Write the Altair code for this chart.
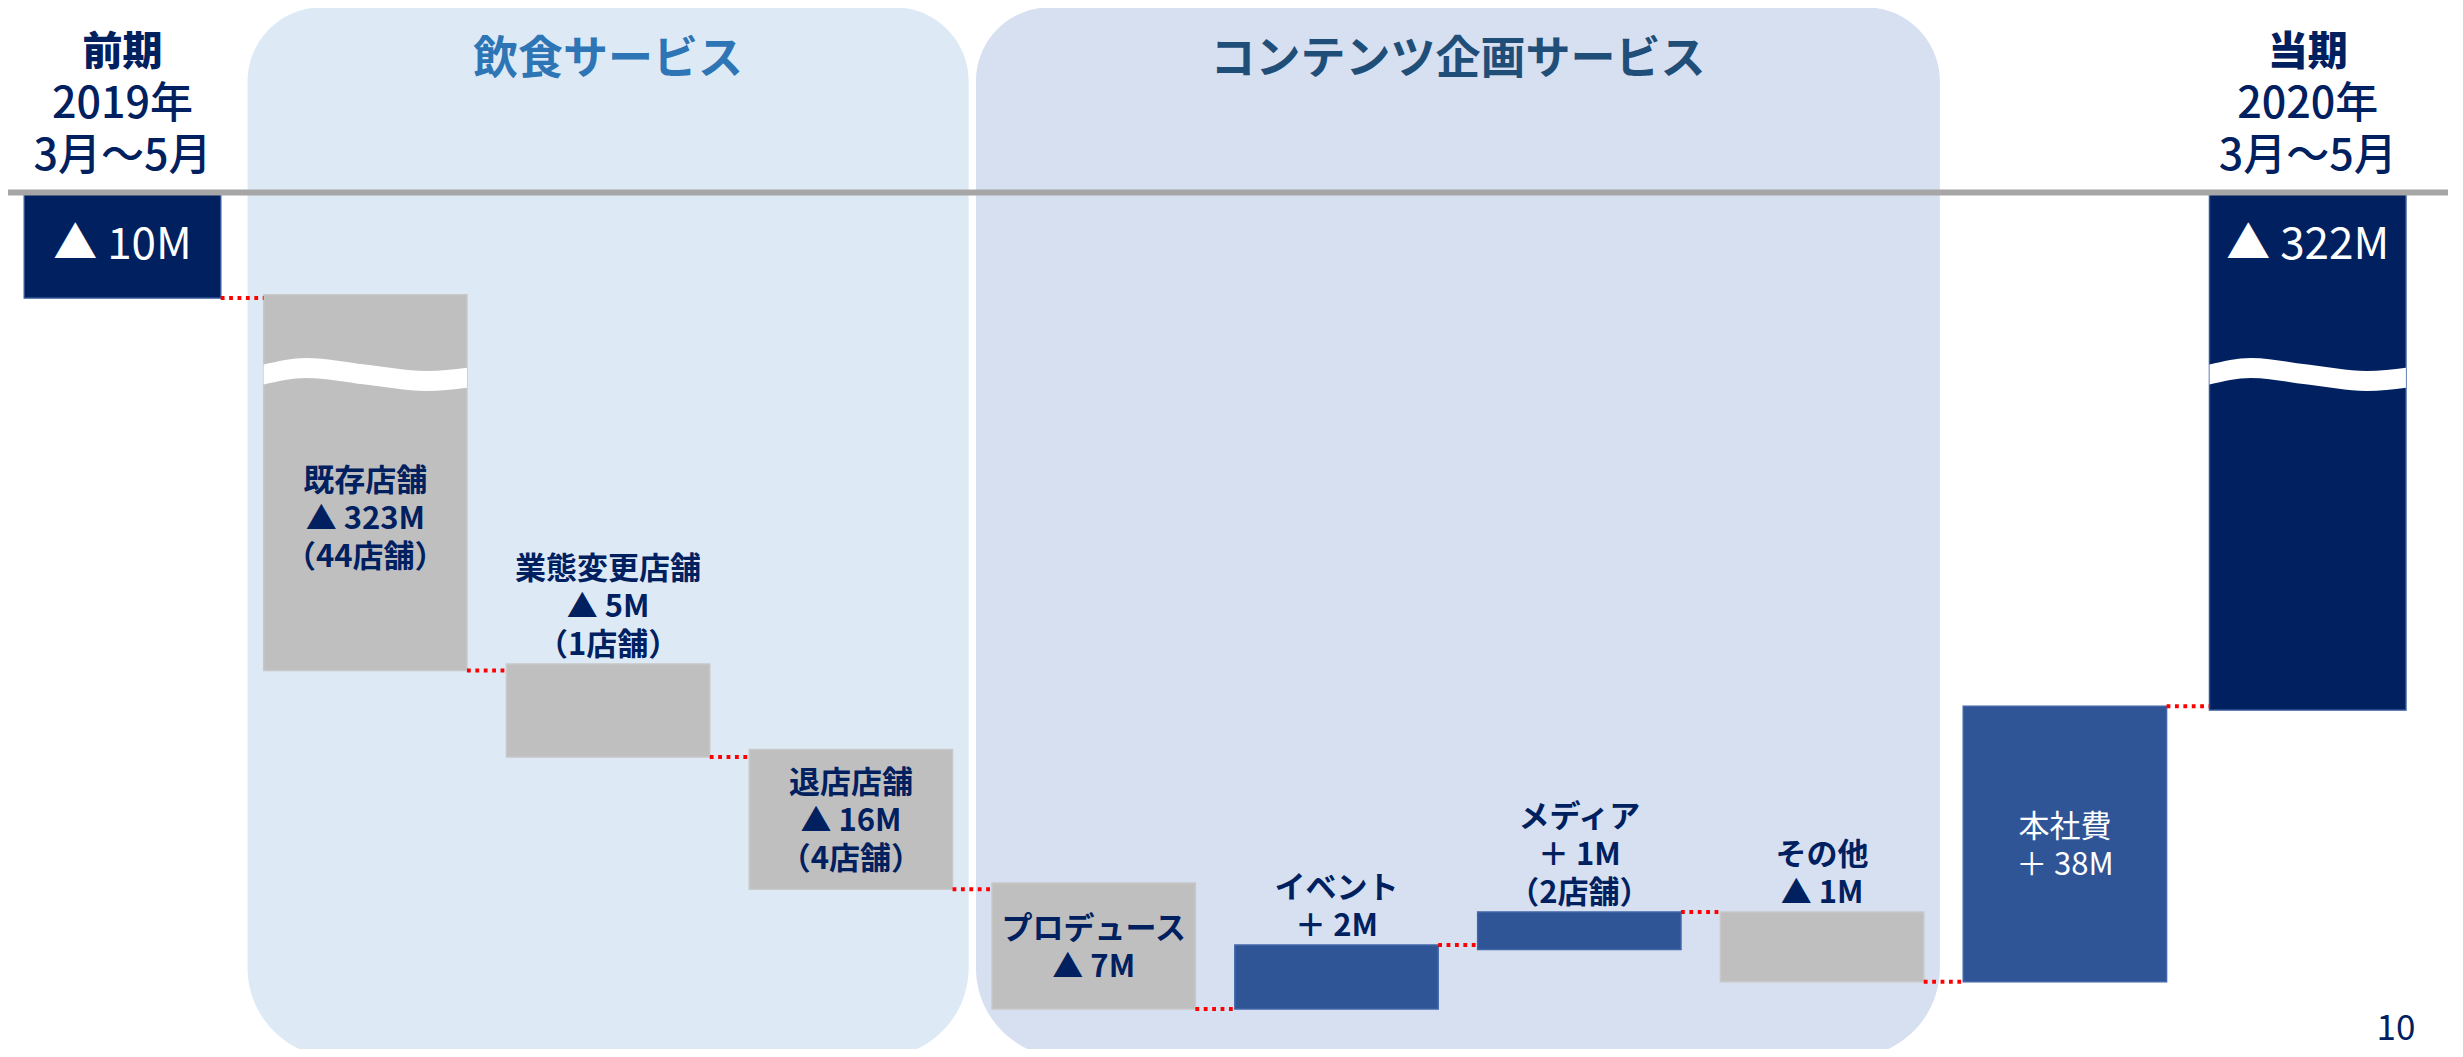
import altair as alt
import pandas as pd

# ---------------- data ----------------
steps = ["前期", "既存店舗", "業態変更店舗", "退店店舗", "プロデュース",
         "イベント", "メディア", "その他", "本社費", "当期"]
kinds = ["total", "decrease", "decrease", "decrease", "decrease",
         "increase", "increase", "decrease", "increase", "total"]
amounts_m = [-10, -323, -5, -16, -7, 2, 1, -1, 38, -322]
store_notes = ["", "（44店舗）", "（1店舗）", "（4店舗）", "", "", "（2店舗）", "", "", ""]
# bar extents on the schematic (not to scale, broken) drawing axis
bar_from = [0.0, -9.7, -44.7, -52.8, -65.45, -77.4, -71.75, -68.2, -74.8, 0.0]
bar_to = [-10.0, -45.3, -53.5, -66.05, -77.4, -71.33, -68.2, -74.8, -48.7, -49.05]
axis_break = -17.25
wave_f = [0.0, 0.21, 0.5, 0.8, 1.0]
wave_dy = [0.0, 0.62, 0.0, -0.62, -0.3]

segments = ["飲食サービス", "コンテンツ企画サービス"]
segment_first = [1, 4]
segment_last = [3, 7]

header_lines = [["前期", "2019年", "3月～5月"], ["当期", "2020年", "3月～5月"]]
page_number = "10"

# ---------------- layout / style constants ----------------
W, H = 2440, 1041
X_DOMAIN = [-0.4716, 9.5778]
Y_DOMAIN = [-81.18, 17.488]
PX = H / (Y_DOMAIN[1] - Y_DOMAIN[0])  # pixels per drawing unit
BAR_HALF = 0.4187
TOTAL_HALF = 0.4045
BREAK_HALF = 0.95
PANEL_TOP, PANEL_BOTTOM = 17.55, -82.0
PANEL_INSET = 0.015
LH = 38          # label line height (px)
LABEL_SIZE = 31
GLYPH_UP = 2.5   # visual centre of a CJK line sits this far above a 'middle' anchor (px)

NAVY = "#002060"
FONT = "'Noto Sans CJK JP', sans-serif"
KIND_FILL = {"total": "#002060", "decrease": "#BFBFBF", "increase": "#2F5597"}
KIND_STROKE = {"total": "#2F5597", "decrease": "#C8C8C8", "increase": "#4166A8"}
SEG_FILL = {"飲食サービス": "#DDEAF6", "コンテンツ企画サービス": "#D6E0F1"}
SEG_TITLE = {"飲食サービス": "#2E75B6", "コンテンツ企画サービス": "#1F4E79"}

xs = alt.Scale(domain=X_DOMAIN, nice=False, zero=False)
ys = alt.Scale(domain=Y_DOMAIN, nice=False, zero=False)


def X(f):
    return alt.X(f, type="quantitative", scale=xs, axis=None)


def Y(f):
    return alt.Y(f, type="quantitative", scale=ys, axis=None, stack=None)


# ---------------- tables built from the arrays ----------------
rows = []
for i, s in enumerate(steps):
    hw = TOTAL_HALF if kinds[i] == "total" else BAR_HALF
    top = max(bar_from[i], bar_to[i])
    bottom = min(bar_from[i], bar_to[i])
    amt = amounts_m[i]
    value_txt = ("▲ " if amt < 0 else "＋ ") + f"{abs(amt)}M"
    if kinds[i] == "total":
        lines = [value_txt]
        place = "total"
        ly = top - 5.05
    else:
        lines = [s, value_txt] + ([store_notes[i]] if store_notes[i] else [])
        n = len(lines)
        if top - bottom >= 10:
            place = "inside_" + kinds[i]
            upper = axis_break + BREAK_HALF if bottom < axis_break < top else top
            c = (upper + bottom) / 2
            ly = c + ((n - 1) * LH / 2 - GLYPH_UP) / PX
        else:
            place = "above"
            ly = top + (20.5 + (n - 1) * LH - GLYPH_UP) / PX
    rows.append(dict(idx=i, step=s, kind=kinds[i], y0=bar_from[i], y1=bar_to[i],
                     xl=i - hw, xr=i + hw, label="\n".join(lines), place=place, ly=ly,
                     top=top, bottom=bottom))
bars = pd.DataFrame(rows)

conn = pd.DataFrame([
    dict(xa=bars.xr[i], xb=bars.xl[i + 1], y=bar_to[i]) for i in range(len(steps) - 1)
])

wave_rows = []
for r in rows:
    if r["bottom"] < axis_break < r["top"]:
        for f, d in zip(wave_f, wave_dy):
            x = r["xl"] + f * (r["xr"] - r["xl"])
            c = axis_break + d
            wave_rows.append(dict(step=r["step"], x=x, yh=c + BREAK_HALF, yl=c - BREAK_HALF))
waves = pd.DataFrame(wave_rows)

panels = pd.DataFrame(dict(
    segment=segments,
    xl=[a - 0.5 + PANEL_INSET for a in segment_first],
    xr=[b + 0.5 - PANEL_INSET for b in segment_last],
))
panels["xc"] = (panels.xl + panels.xr) / 2
panels["top"] = PANEL_TOP
panels["bottom"] = PANEL_BOTTOM

headers = pd.DataFrame(dict(
    idx=[steps.index("前期"), steps.index("当期")],
    bold_txt=[h[0] for h in header_lines],
    norm_txt=["\n" + h[1] + "\n" + h[2] for h in header_lines],
))

# ---------------- layers ----------------
layers = []

for seg in segments:
    layers.append(alt.Chart(panels).transform_filter(alt.datum.segment == seg).mark_rect(
        cornerRadiusTopLeft=74, cornerRadiusTopRight=74,
        cornerRadiusBottomLeft=90, cornerRadiusBottomRight=90, color=SEG_FILL[seg],
    ).encode(x=X("xl"), x2="xr", y=Y("top"), y2="bottom"))

for seg in segments:
    layers.append(alt.Chart(panels).transform_filter(alt.datum.segment == seg).mark_text(
        font=FONT, fontSize=45, fontWeight="bold", baseline="middle", align="center",
        dy=53, color=SEG_TITLE[seg],
    ).encode(x=X("xc"), y=Y("top"), text="segment:N"))

for k in ["total", "decrease", "increase"]:
    layers.append(alt.Chart(bars).transform_filter(alt.datum.kind == k).mark_rect(
        fill=KIND_FILL[k], stroke=KIND_STROKE[k], strokeWidth=1.5,
    ).encode(x=X("xl"), x2="xr", y=Y("y0"), y2="y1"))

layers.append(alt.Chart(waves).mark_area(interpolate="monotone", color="white", orient="vertical").encode(
    x=X("x"), y=Y("yh"), y2="yl", detail="step:N",
))

layers.append(alt.Chart(pd.DataFrame({"v": [0]})).mark_rule(color="#A6A6A6", strokeWidth=6).encode(
    y=Y("v"),
))

layers.append(alt.Chart(conn).mark_rule(
    color="#FF0000", strokeWidth=4, strokeDash=[3.8, 4.6], strokeCap="butt",
).encode(x=X("xa"), x2="xb", y=Y("y")))


def label_layer(place, color, weight, size):
    return alt.Chart(bars).transform_filter(alt.datum.place == place).mark_text(
        font=FONT, fontSize=size, fontWeight=weight, color=color, lineBreak="\n",
        lineHeight=LH, align="center", baseline="middle",
    ).encode(x=X("idx"), y=Y("ly"), text="label:N")


layers += [
    label_layer("inside_decrease", NAVY, "bold", LABEL_SIZE),
    label_layer("inside_increase", "white", "normal", LABEL_SIZE),
    label_layer("above", NAVY, "bold", LABEL_SIZE),
    label_layer("total", "white", "normal", 44),
]

layers.append(alt.Chart(headers).mark_text(
    font=FONT, fontSize=40, fontWeight=900, color=NAVY, lineBreak="\n", lineHeight=52,
    align="center", baseline="middle", dy=-139.5,
).encode(x=X("idx"), y=alt.Y(datum=0, scale=ys, axis=None), text="bold_txt:N"))

layers.append(alt.Chart(headers).mark_text(
    font=FONT, fontSize=43, fontWeight=500, color=NAVY, lineBreak="\n", lineHeight=52,
    align="center", baseline="middle", dy=-139.5,
).encode(x=X("idx"), y=alt.Y(datum=0, scale=ys, axis=None), text="norm_txt:N"))

layers.append(alt.Chart(pd.DataFrame({"t": [page_number]})).mark_text(
    font=FONT, fontSize=35, color=NAVY, align="center", baseline="alphabetic",
).encode(x=alt.value(2388), y=alt.value(1032), text="t:N"))

chart = alt.layer(*layers).properties(
    width=W, height=H, padding=0, background="white",
    autosize=alt.AutoSizeParams(type="none"),
).configure_view(stroke=None)

chart.save("out.html", embed_options={"renderer": "svg", "actions": False})
